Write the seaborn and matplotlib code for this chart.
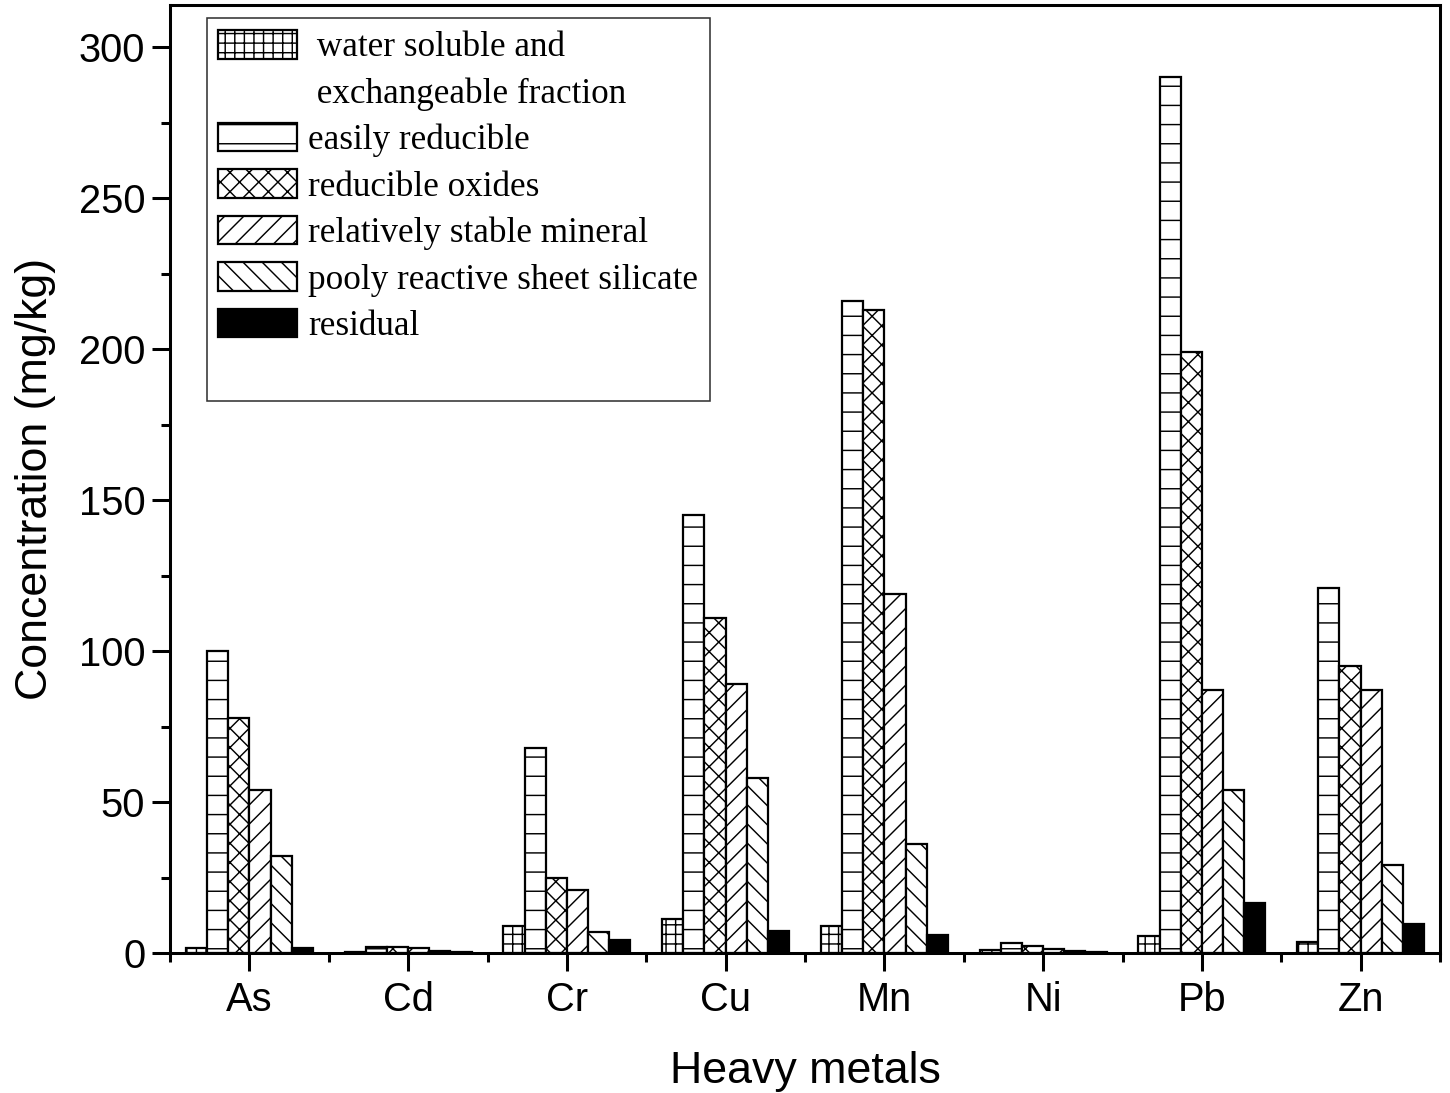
import numpy as np
import pandas as pd
import matplotlib
matplotlib.use("Agg")
import matplotlib.pyplot as plt
from matplotlib.patches import Patch
from matplotlib.ticker import MultipleLocator, FixedLocator
import seaborn as sns

# Heavy metal fractions (mg/kg) from sequential extraction
metals = ["As", "Cd", "Cr", "Cu", "Mn", "Ni", "Pb", "Zn"]
fractions = [
    "water soluble and exchangeable fraction",
    "easily reducible",
    "reducible oxides",
    "relatively stable mineral",
    "pooly reactive sheet silicate",
    "residual",
]
water_soluble = [1.6, 0.3, 9.0, 11.2, 8.8, 1.0, 5.6, 3.5]
easily_reducible = [100, 2.0, 68, 145, 216, 3.2, 290, 121]
reducible_oxides = [78, 2.0, 25, 111, 213, 2.3, 199, 95]
stable_mineral = [54, 1.5, 21, 89, 119, 1.4, 87, 87]
sheet_silicate = [32, 0.8, 7.1, 58, 36, 0.8, 54, 29]
residual = [1.8, 0.4, 4.4, 7.4, 6.0, 0.4, 16.7, 9.6]

series = [water_soluble, easily_reducible, reducible_oxides,
          stable_mineral, sheet_silicate, residual]

df = pd.DataFrame({
    "metal": np.repeat([metals], len(fractions), axis=0).ravel(),
    "fraction": np.repeat(fractions, len(metals)),
    "value": np.concatenate(series),
})

sns.set_theme(style="ticks")
plt.rcParams.update({
    "font.family": ["Liberation Sans", "DejaVu Sans"],
    "text.color": "black",
    "axes.labelcolor": "black",
    "hatch.color": "black",
    "hatch.linewidth": 0.9,
    "axes.linewidth": 1.9,
})

DPI = 115
fig = plt.figure(figsize=(1450 / DPI, 1093 / DPI), dpi=DPI)
ax = fig.add_axes([170 / 1450, 1 - 953 / 1093, 1270 / 1450, 948 / 1093])

sns.barplot(data=df, x="metal", y="value", hue="fraction", order=metals,
            hue_order=fractions, palette=["white"] * 6, errorbar=None,
            width=0.8, edgecolor="black", linewidth=1.4, ax=ax, legend=False)

hatches = ["++", "-", "xx", "//", "\\\\", ""]
faces = ["white", "white", "white", "white", "white", "black"]
for cont, h, fc in zip(ax.containers, hatches, faces):
    for bar in cont:
        bar.set_hatch(h)
        bar.set_facecolor(fc)
        bar.set_edgecolor("black")

ax.set_xlim(-0.5, len(metals) - 0.5)
ax.set_ylim(0, 314)
ax.yaxis.set_major_locator(MultipleLocator(50))
ax.yaxis.set_minor_locator(MultipleLocator(25))
ax.xaxis.set_minor_locator(FixedLocator(np.arange(-0.5, len(metals), 1.0)))

for side in ["top", "right", "left", "bottom"]:
    ax.spines[side].set_visible(True)
    ax.spines[side].set_linewidth(1.9)
    ax.spines[side].set_color("black")

ax.tick_params(axis="both", which="major", length=11.5, width=1.9,
               direction="out", labelsize=25, colors="black")
ax.tick_params(axis="x", which="major", pad=6)
ax.tick_params(axis="y", which="major", pad=4)
ax.tick_params(axis="both", which="minor", length=5.8, width=1.9,
               direction="out", colors="black")
ax.tick_params(top=False, right=False, which="both")

ax.set_xlabel("Heavy metals", fontsize=28, labelpad=20, color="black")
ax.set_ylabel("Concentration (mg/kg)", fontsize=28, labelpad=14, color="black")

# Legend with hatch swatches
legend_labels = [" water soluble and", " exchangeable fraction", "easily reducible",
                 "reducible oxides", "relatively stable mineral",
                 "pooly reactive sheet silicate", "residual", " "]
handles = [
    Patch(facecolor="white", edgecolor="black", hatch="++", linewidth=1.4),
    Patch(facecolor="none", edgecolor="none"),
    Patch(facecolor="white", edgecolor="black", hatch="-", linewidth=1.4),
    Patch(facecolor="white", edgecolor="black", hatch="xx", linewidth=1.4),
    Patch(facecolor="white", edgecolor="black", hatch="//", linewidth=1.4),
    Patch(facecolor="white", edgecolor="black", hatch="\\\\", linewidth=1.4),
    Patch(facecolor="black", edgecolor="black", linewidth=1.4),
    Patch(facecolor="none", edgecolor="none"),
]
leg = ax.legend(handles, legend_labels, loc="upper left",
                bbox_to_anchor=(0.029, 0.986), frameon=True, fancybox=False,
                prop={"family": "Liberation Serif", "size": 22},
                handlelength=2.25, handleheight=0.88, handletextpad=0.3,
                labelspacing=0.34, borderpad=0.33, borderaxespad=0.0,
                labelcolor="black")
leg.get_frame().set_edgecolor("black")
leg.get_frame().set_linewidth(1.0)

fig.savefig("out.png", dpi=DPI)
